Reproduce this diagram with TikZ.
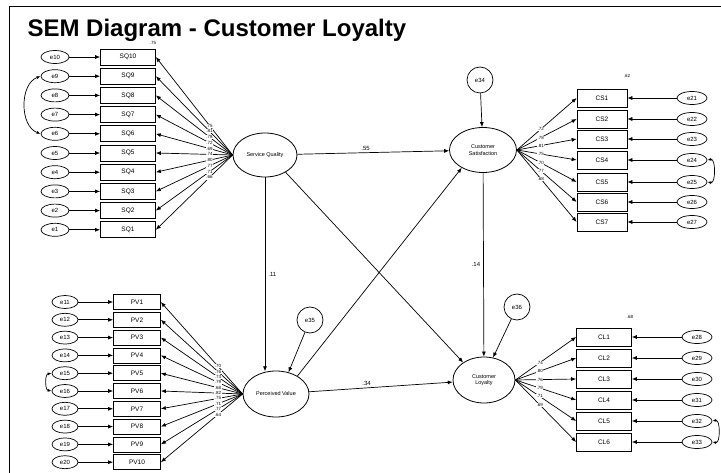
\documentclass[tikz,border=0pt]{standalone}
\usepackage{fontspec}
\setmainfont{Liberation Sans}
\usetikzlibrary{arrows.meta,shapes.geometric}
\begin{document}
\begin{tikzpicture}[x=1pt,y=-1pt,
  obs/.style={draw, line width=0.7pt, rectangle, inner sep=0pt, font=\fontsize{6.5}{7}\selectfont},
  err/.style={draw, line width=0.7pt, ellipse, inner sep=0pt, minimum width=28, minimum height=13, font=\fontsize{6}{7}\selectfont},
  lat/.style={draw, line width=0.8pt, ellipse, inner sep=0pt, align=center, font=\fontsize{5.5}{6.5}\selectfont},
  dist/.style={draw, line width=0.7pt, circle, inner sep=0pt, minimum size=26, font=\fontsize{6}{7}\selectfont},
  arr/.style={-{Latex[length=5pt,width=4pt]}, line width=0.7pt},
  cov/.style={{Latex[length=4pt,width=3pt]}-{Latex[length=4pt,width=3pt]}, line width=0.7pt},
  lbl/.style={font=\fontsize{4.5}{5}\selectfont, inner sep=0.5pt, fill=white},
  slbl/.style={font=\fontsize{6}{7}\selectfont, inner sep=1pt, fill=white}]
\useasboundingbox (0,0) rectangle (721,473);
\draw[line width=1pt] (9,473) -- (9,7) -- (721,7);
\node[anchor=base west, font=\bfseries\fontsize{24}{27}\selectfont] (title) at (24,37) {SEM Diagram - Customer Loyalty};

% latent variables
\node[lat, minimum width=64, minimum height=44] (L1) at (265,155) {Service Quality};
\node[lat, minimum width=67, minimum height=45] (TR) at (483,150) {Customer\\Satisfaction};
\node[lat, minimum width=66, minimum height=46] (BL) at (276,394) {Perceived Value};
\node[lat, minimum width=62, minimum height=46] (BR) at (484,380) {Customer\\Loyalty};

% disturbances
\node[dist] (d1) at (480,80) {e34};
\node[dist] (d2) at (310,320) {e35};
\node[dist] (d3) at (517,307) {e36};
\draw[arr] (d1) -- (TR);
\draw[arr] (d2) -- (BL.60);
\draw[arr] (d3) -- (BR.68);

% top-left indicators
\foreach \i/\v in {1/.75,2/.81,3/.78,4/.72,5/.69,6/.74,7/.80,8/.77,9/.71,10/.66}{
  \pgfmathsetmacro\yy{57+19.2*(\i-1)}
  \pgfmathtruncatemacro\num{11-\i}
  \node[obs, minimum width=55, minimum height=16] (a\i) at (128,\yy) {SQ\num};
  \node[err] (ea\i) at (55,\yy) {e\num};
  \draw[arr] (ea\i) -- (a\i);
  \draw[arr] (L1.west) -- (a\i.east) node[lbl, pos=0.3] {\v};
}
\draw[cov] (ea2.west) to[out=200,in=160] (ea5.west);

% bottom-left indicators
\foreach \i/\v in {1/.70,2/.76,3/.73,4/.79,5/.68,6/.82,7/.75,8/.71,9/.77,10/.64}{
  \pgfmathsetmacro\yy{302+17.8*(\i-1)}
  \pgfmathtruncatemacro\num{10+\i}
  \node[obs, minimum width=47, minimum height=15] (b\i) at (137,\yy) {PV\i};
  \node[err, minimum width=26] (eb\i) at (65,\yy) {e\num};
  \draw[arr] (eb\i) -- (b\i);
  \draw[arr] (BL.west) -- (b\i.east) node[lbl, pos=0.3] {\v};
}
\draw[cov] (eb5.west) to[out=190,in=170] (eb6.west);

% top-right indicators
\foreach \i/\yy/\v in {1/98/.72,2/119/.78,3/139/.81,4/160/.75,5/182/.70,6/202/.77,7/222/.68}{
  \pgfmathtruncatemacro\num{20+\i}
  \node[obs, minimum width=50, minimum height=18] (c\i) at (602,\yy) {CS\i};
  \node[err, minimum width=30] (ec\i) at (692,\yy) {e\num};
  \draw[arr] (ec\i) -- (c\i);
  \draw[arr] (TR.east) -- (c\i.west) node[lbl, pos=0.4] {\v};
}
\draw[cov] (ec4.east) to[out=10,in=-10] (ec5.east);

% bottom-right indicators
\foreach \i/\yy/\v in {1/337/.74,2/358/.80,3/379/.76,4/400/.79,5/421/.71,6/442/.69}{
  \pgfmathtruncatemacro\num{27+\i}
  \node[obs, minimum width=55, minimum height=18] (r\i) at (604,\yy) {CL\i};
  \node[err, minimum width=30] (ed\i) at (697,\yy) {e\num};
  \draw[arr] (ed\i) -- (r\i);
  \draw[arr] (BR.east) -- (r\i.west) node[lbl, pos=0.4] {\v};
}
\draw[cov] (ed5.east) to[out=10,in=-10] (ed6.east);

% small R-square labels
\node[lbl] at (153,43) {.75};
\node[lbl] at (627,76) {.62};
\node[lbl] at (630,317) {.68};

% structural paths
\draw[arr] (L1) -- (TR) node[slbl, pos=0.45, above=1pt] {.55};
\draw[arr] (L1.south) -- (L1.south |- BL.110) node[slbl, pos=0.5, right=2pt] {.11};
\draw[arr] (L1.-40) -- (BR.140);
\draw[arr] (BL.40) -- (TR.-140);
\draw[arr] (BL) -- (BR) node[slbl, pos=0.4, above=1pt] {.34};
\draw[arr] (TR) -- (BR) node[slbl, pos=0.5, left=2pt] {.14};
\end{tikzpicture}
\end{document}
